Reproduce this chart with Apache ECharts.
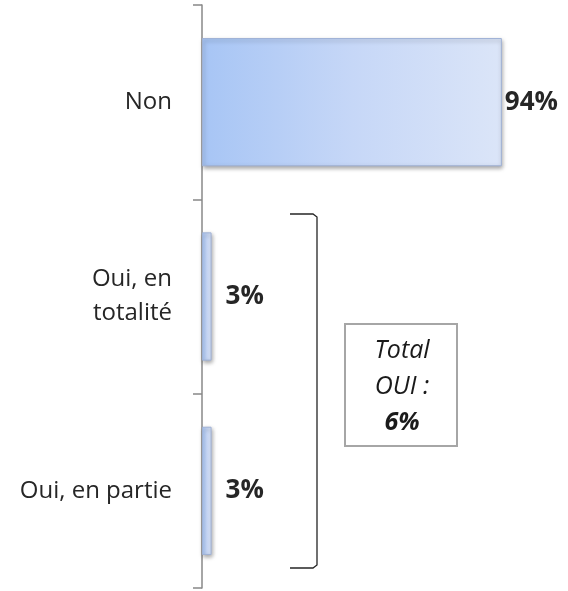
<!DOCTYPE html>
<html><head><meta charset="utf-8">
<script src="https://cdn.jsdelivr.net/npm/echarts@6/dist/echarts.min.js"></script>
<style>html,body{margin:0;padding:0;background:#fff}#c{width:568px;height:591px}</style>
</head><body><div id="c"></div>
<script>
const categories = ['Non', 'Oui, en\ntotalité', 'Oui, en partie'];
const values = [94, 3, 3];
const valueLabels = ['94%', '3%', '3%'];
const totalText = ['{i|Total}', '{i|OUI :}', '{b|6%}'];

const FONT = 'Open Sans';
const chart = echarts.init(document.getElementById('c'));
const barColor = new echarts.graphic.LinearGradient(0, 0, 1, 0, [
  {offset: 0, color: '#a7c5f5'},
  {offset: 0.5, color: '#c6d7f7'},
  {offset: 1, color: '#dbe5f8'}
]);
chart.setOption({
  animation: false,
  grid: {left: 202, top: 5, width: 319, height: 583},
  xAxis: {type: 'value', min: 0, max: 100, show: false},
  yAxis: {
    type: 'category', data: categories, inverse: true,
    axisLine: {show: true, lineStyle: {color: '#888888', width: 1.5}},
    axisTick: {show: true, length: 9, lineStyle: {color: '#888888', width: 1.5}},
    axisLabel: {margin: 30, fontFamily: FONT, fontSize: 24, color: '#262626', lineHeight: 34, align: 'right'}
  },
  series: [{
    type: 'bar',
    data: values.map((v, i) => ({value: v, label: {distance: v > 50 ? 3 : 14}})),
    barWidth: '66%',
    itemStyle: {color: barColor, borderColor: '#9fb2d6', borderWidth: 1,
      shadowColor: 'rgba(0,0,0,0.35)', shadowBlur: 4, shadowOffsetX: 1, shadowOffsetY: 2},
    label: {show: true, position: 'right', fontFamily: FONT, fontSize: 26, fontWeight: 'bold', color: '#262626',
      formatter: p => valueLabels[p.dataIndex]}
  }],
  graphic: [
    {type: 'polyline', shape: {points: [[290, 214], [313, 214], [317, 217], [317, 565], [313, 568], [290, 568]]},
      style: {stroke: '#262626', lineWidth: 1.3, fill: null}},
    {type: 'rect', shape: {x: 345, y: 324, width: 112, height: 122},
      style: {stroke: '#a6a6a6', lineWidth: 2, fill: '#fff'}},
    {type: 'text', x: 402, y: 387,
      style: {text: totalText.join('\n'), align: 'center', verticalAlign: 'middle', fill: '#262626',
        rich: {i: {fontFamily: FONT, fontSize: 25, fontStyle: 'italic', lineHeight: 36, fill: '#1a1a1a'},
               b: {fontFamily: FONT, fontSize: 25, fontStyle: 'italic', fontWeight: 'bold', lineHeight: 36, fill: '#1a1a1a'}}}}
  ]
});
</script></body></html>
